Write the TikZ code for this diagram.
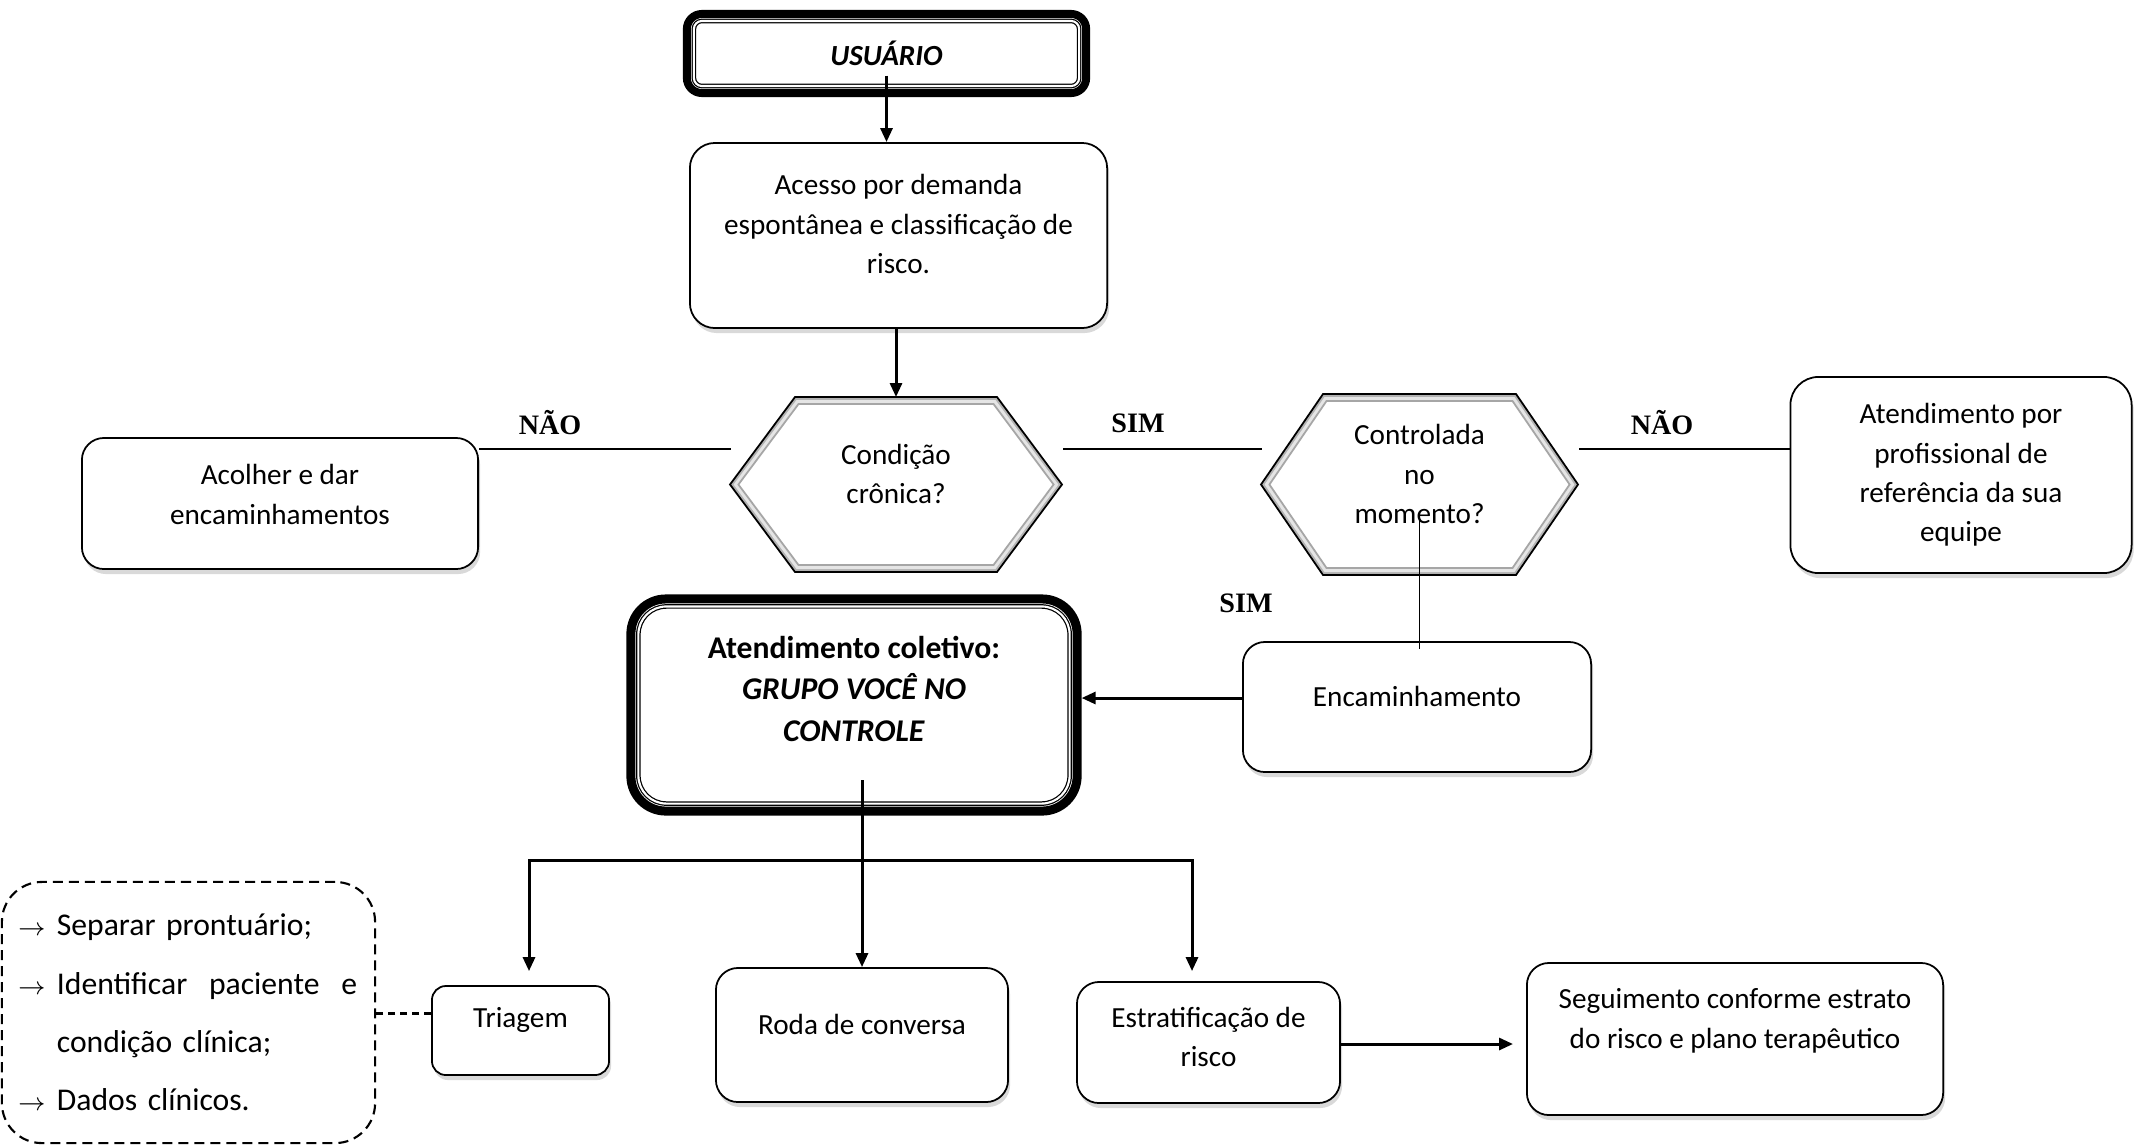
\documentclass[tikz,border=0pt]{standalone}
\usepackage{fontspec}
\setmainfont{Carlito}
\newfontfamily\rotfont{Liberation Serif}
\usepackage{tikz}
\usetikzlibrary{calc,arrows.meta,shadows}
\def\hexfield(#1)(#2:#3:#4){%
  \foreach \ins/\estilo in {0/hexout,3/hexmid,7/hexin}
    \draw[\estilo] ($(#1)+(-#2+1.2*\ins,0)$) -- ($(#1)+(-#2+#4+0.5*\ins,-#3+\ins)$)
      -- ($(#1)+(#2-#4-0.5*\ins,-#3+\ins)$) -- ($(#1)+(#2-1.2*\ins,0)$)
      -- ($(#1)+(#2-#4-0.5*\ins,#3-\ins)$) -- ($(#1)+(-#2+#4+0.5*\ins,#3-\ins)$) -- cycle;
}
\def\marca{\makebox[0.39cm][l]{\fontsize{7}{7}\selectfont$\rightarrow$}}
\def\sobe#1{\\[#1]\mbox{}}
\tikzset{
  texto/.style={align=center, font=\fontsize{8.3}{11.2}\selectfont},
  caixa/.style={texto, draw, line width=0.5pt, rounded corners=0.22cm, fill=white,
    drop shadow={shadow xshift=0.02cm, shadow yshift=-0.05cm, opacity=0.3}},
  moldura/.style={texto, draw, line width=0.08cm, rounded corners=0.15cm, fill=white},
  duplo/.style={double, double distance=0.6pt, line width=0.35pt, rounded corners=0.08cm},
  tracejado/.style={draw, line width=0.6pt, dash pattern=on 0.1cm off 0.06cm, rounded corners=0.4cm},
  tracos/.style={line width=0.6pt, dash pattern=on 0.07cm off 0.05cm},
  rotulo/.style={font=\rotfont\bfseries\fontsize{8}{9}\selectfont},
  liga/.style={line width=0.6pt},
  fio/.style={line width=0.4pt},
  seta/.style={line width=0.85pt, -{Triangle[length=0.14cm, width=0.12cm]}},
  setadupla/.style={line width=0.85pt, {Triangle[length=0.14cm, width=0.12cm]}-{Triangle[length=0.14cm, width=0.12cm]}},
  hexout/.style={draw=black, line width=0.5pt, fill=gray!60},
  hexmid/.style={draw=none, fill=gray!20},
  hexin/.style={draw=gray!70, line width=0.5pt, fill=white},
}

\begin{document}
\begin{tikzpicture}[x=0.01cm, y=-0.01cm]
		\useasboundingbox (0,0) rectangle (2134,1145);
		%%%%% START %%%%%
		
		\node[moldura, minimum width=3.99cm, minimum height=0.79cm] (usuario) at (886.5,53.5) {\textbf{\textit{USUÁRIO}}};
		\draw[duplo] ($(usuario.north west)+(11,11)$) rectangle ($(usuario.south east)+(-11,-11)$);
		
		\node[caixa, rounded corners=0.25cm, minimum width=4.17cm, minimum height=1.85cm] (acesso) at (898.5,235.5) {Acesso por demanda\\espontânea e classificação de\\risco.\sobe{-4.7pt}};
		\draw[seta] ($(usuario.center)+(0,22)$) -- (usuario.center |- acesso.north);
		
		\hexfield(896,484.5)(166:87.5:65)
		\node[texto] (cond) at (896,474) {Condição\\crônica?};
		\hexfield(1419.5,484.5)(158.5:90.5:62)
		\node[texto] (controle) at (1419.5,474) {Controlada\\no\\momento?};
		
		\coordinate (condtopo) at (896,397);
		\draw[seta] (acesso.south -| condtopo) -- (condtopo);
		
		\node[caixa, minimum width=3.96cm, minimum height=1.31cm] (acolher) at (280,503.5) {Acolher e dar\\encaminhamentos\sobe{-6pt}};
		\node[caixa, rounded corners=0.28cm, minimum width=3.41cm, minimum height=1.96cm] (referencia) at (1961,475) {Atendimento por\\profissional de\\referência da sua\\equipe};
		
		\coordinate (naoE) at (731,449);
		\coordinate (simA) at (1063,449);
		\coordinate (simB) at (1262,449);
		\coordinate (naoD) at (1579,449);
		\draw[liga] (acolher.east |- naoE) -- (naoE);
		\draw[liga] (simA) -- (simB);
		\draw[liga] (naoD) -- (referencia.west |- naoD);
		
		\node[rotulo] (nao1) at (550,423) {NÃO};
		\node[rotulo] (sim1) at (1138,423) {SIM};
		\node[rotulo] (nao2) at (1662,423) {NÃO};
		\node[rotulo] (sim2) at (1246,603) {SIM};
		
		\node[caixa, minimum width=3.48cm, minimum height=1.30cm] (encam) at (1417,707) {Encaminhamento\sobe{-5pt}};
		\draw[fio] ($(controle.center)+(0,40)$) -- ($(controle.center |- encam.north)+(0,8)$);
		
		\node[moldura, rounded corners=0.35cm, line width=0.09cm, minimum width=4.46cm, minimum height=2.12cm, font=\fontsize{9}{11.8}\selectfont] (coletivo) at (854,705) {\textbf{Atendimento coletivo:}\\\textbf{\textit{GRUPO VOCÊ NO}}\\\textbf{\textit{CONTROLE}}\sobe{-2.5pt}};
		\draw[duplo, rounded corners=0.28cm] ($(coletivo.north west)+(12,12)$) rectangle ($(coletivo.south east)+(-12,-12)$);
		\draw[seta] ($(encam.west)+(0,-9)$) -- ($(coletivo.east)+(0,-7)$);
		
		\node[caixa, rounded corners=0.14cm, minimum width=1.77cm, minimum height=0.89cm] (triagem) at (520.5,1030.5) {Triagem\sobe{-4pt}};
		\node[caixa, minimum width=2.92cm, minimum height=1.34cm] (roda) at (862,1035) {Roda de conversa\sobe{-5pt}};
		\node[caixa, minimum width=2.63cm, minimum height=1.21cm] (estrat) at (1208.5,1042.5) {Estratificação de\\risco\sobe{-8pt}};
		\node[caixa, minimum width=4.16cm, minimum height=1.52cm] (seguim) at (1735,1039) {Seguimento conforme estrato\\do risco e plano terapêutico\sobe{0.5pt}};
		
		\draw[seta] ($(roda.north |- coletivo.center)+(0,75)$) -- (roda.north);
		\coordinate (ramoE) at (529,860);
		\coordinate (ramoD) at (1192,860);
		\draw[setadupla] ($(ramoE |- triagem.north)+(0,-14)$) -- (ramoE) -- (ramoD) -- ($(ramoD |- estrat.north)+(0,-10)$);
		\draw[seta] ($(estrat.east)+(0,1.5)$) -- ($(seguim.west |- estrat.east)+(-13,1.5)$);
		
		\node[tracejado, minimum width=3.73cm, minimum height=2.61cm, text width=3.41cm, align=left, font=\fontsize{9}{16.6}\selectfont] (tarefas) at (188.5,1012.5) {\marca Separar prontuário;\\\marca\makebox[3cm][l]{Identificar\hfill paciente\hfill e}\\\hspace*{0.39cm}condição clínica;\\\marca Dados clínicos.};
		\draw[tracos] ($(triagem.west)+(0,-17)$) -- ($(tarefas.east |- triagem.west)+(0,-17)$);
		
		%%%%% END %%%%%
\end{tikzpicture}
\end{document}
